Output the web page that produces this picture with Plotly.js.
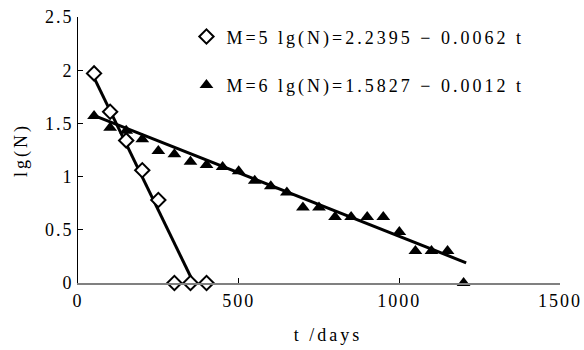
<!DOCTYPE html>
<html>
<head>
<meta charset="utf-8">
<script src="https://cdn.plot.ly/plotly-3.0.1.min.js"></script>
<style>
html,body{margin:0;padding:0;background:#fff;}
#chart{width:584px;height:350px;}
#chart .legend, #chart .legend *{clip-path:none !important;}
#chart .legendtext{letter-spacing:3px;}
#chart .xtick text, #chart .ytick text{letter-spacing:2px;}
#chart .g-xtitle text, #chart .g-ytitle text{letter-spacing:3px;}
#chart .g-xtitle text{transform:translate(9px, 0px);}
</style>
</head>
<body>
<div id="chart"></div>
<script>
// M = 5 observations
const tM5 = [50, 100, 150, 200, 250, 300, 350, 400];
const lgM5 = [1.97, 1.61, 1.34, 1.06, 0.78, 0, 0, 0];
// M = 6 observations
const tM6 = [50, 100, 150, 200, 250, 300, 350, 400, 450, 500, 550, 600, 650, 700, 750, 800, 850, 900, 950, 1000, 1050, 1100, 1150, 1200];
const lgM6 = [1.57, 1.46, 1.43, 1.35, 1.24, 1.21, 1.14, 1.11, 1.09, 1.05, 0.96, 0.91, 0.85, 0.71, 0.71, 0.62, 0.62, 0.62, 0.62, 0.48, 0.30, 0.30, 0.30, 0];
// fitted lines (end points)
const fitT5 = [45, 360];
const fitLg5 = [1.96, 0];
const fitT6 = [45, 1208];
const fitLg6 = [1.58, 0.19];
// legend labels
const label5 = 'M=5 lg(N)=2.2395 − 0.0062 t';
const label6 = 'M=6 lg(N)=1.5827 − 0.0012 t';
// axis ticks
const xTicks = [0, 500, 1000, 1500];
const yTicks = [0, 0.5, 1, 1.5, 2, 2.5];
const yTickText = ['0', '0.5', '1', '1.5', '2', '2.5'];

const font = 'Liberation Serif, DejaVu Serif, serif';

const traces = [
  {x: fitT5, y: fitLg5, mode: 'lines', line: {color: '#000', width: 3}, showlegend: false, hoverinfo: 'skip'},
  {x: fitT6, y: fitLg6, mode: 'lines', line: {color: '#000', width: 3}, showlegend: false, hoverinfo: 'skip'},
  {x: tM5, y: lgM5, mode: 'markers', name: label5, legendgroup: 'a',
   marker: {symbol: 'diamond', size: 11, color: '#fff', line: {color: '#000', width: 2}}, cliponaxis: false},
  {x: tM6, y: lgM6, mode: 'markers', name: label6, legendgroup: 'b',
   marker: {symbol: 'triangle-up', size: 12, color: '#000', line: {color: '#000', width: 0}}, cliponaxis: false}
];

const layout = {
  width: 584, height: 350,
  margin: {l: 78, r: 24, t: 17, b: 67},
  paper_bgcolor: '#fff', plot_bgcolor: '#fff',
  font: {family: font, size: 18, color: '#000'},
  showlegend: true,
  legend: {x: 0.225, y: 0.995, xanchor: 'left', yanchor: 'top', bgcolor: 'rgba(0,0,0,0)',
           font: {family: font, size: 18, color: '#000'}, tracegroupgap: 22, traceorder: 'grouped',
           itemwidth: 30},
  xaxis: {range: [0, 1500], tickvals: xTicks, ticktext: xTicks.map(String),
          showgrid: false, zeroline: false, showline: true, linecolor: '#808080', linewidth: 2,
          ticks: 'inside', ticklen: 5, tickcolor: '#000', tickwidth: 1,
          tickfont: {family: font, size: 18}, fixedrange: true,
          title: {text: 't /days', font: {family: font, size: 18}, standoff: 19}},
  yaxis: {range: [0, 2.5], tickvals: yTicks, ticktext: yTickText,
          showgrid: false, zeroline: false, showline: true, linecolor: '#000', linewidth: 1,
          ticks: 'inside', ticklen: 5, tickcolor: '#000', tickwidth: 1,
          tickfont: {family: font, size: 18}, fixedrange: true,
          title: {text: 'lg(N)', font: {family: font, size: 18}, standoff: 18}}
};

Plotly.newPlot('chart', traces, layout, {displayModeBar: false, staticPlot: true});
</script>
</body>
</html>
